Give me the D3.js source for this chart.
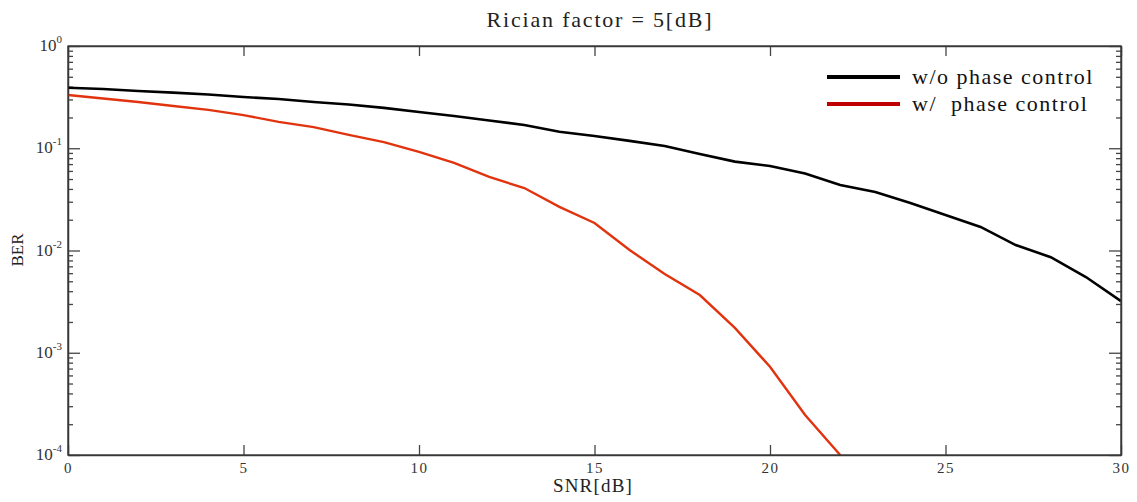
<!DOCTYPE html>
<html lang="en">
<head>
    <meta charset="UTF-8">
    <title>Rician factor = 5[dB]</title>
    <script src="https://d3js.org/d3.v7.min.js"></script>
    <style>
        body { margin: 0; background: #fff; }
        text { font-family: "Liberation Serif", "Times New Roman", serif; fill: #222; }
        .axis path, .axis line { stroke: #444; stroke-width: 1.3; }
        .axis text { font-family: "Liberation Serif", serif; font-size: 15px; fill: #333; }
    </style>
</head>
<body>
<script>
    const width = 1137, height = 502;
    const plotL = 68, plotR = 1121, plotT = 46, plotB = 455;

    // SNR [dB]
    const snr = d3.range(0, 31);
    // BER without phase control
    const berNoCtrl = [0.39, 0.38, 0.363, 0.35, 0.336, 0.317, 0.303, 0.283, 0.268, 0.248,
                       0.226, 0.207, 0.187, 0.169, 0.145, 0.132, 0.118, 0.105, 0.088, 0.074,
                       0.067, 0.0566, 0.0437, 0.0374, 0.0292, 0.0222, 0.017, 0.0113, 0.0086, 0.0055, 0.0032];
    // BER with phase control (ends at 22 dB)
    const berCtrl = [0.332, 0.307, 0.283, 0.259, 0.237, 0.211, 0.181, 0.161, 0.135, 0.115,
                     0.092, 0.0718, 0.0524, 0.0408, 0.0267, 0.0186, 0.0101, 0.0059, 0.00367, 0.00175,
                     0.00073, 0.000246, 0.0001];
    const xTicks = [0, 5, 10, 15, 20, 25, 30];
    const decades = [0, -1, -2, -3, -4];

    const x = d3.scaleLinear().domain([0, 30]).range([plotL, plotR]);
    const y = d3.scaleLog().domain([1e-4, 1]).range([plotB, plotT]);

    const svg = d3.select("body").append("svg")
        .attr("width", width).attr("height", height);

    const majorY = decades.map(e => Math.pow(10, e));
    const minorY = y.ticks().filter(v => !majorY.some(m => Math.abs(m - v) / v < 1e-6));

    // left axis: minor + major ticks pointing inward
    svg.append("g").attr("class", "axis")
        .attr("transform", `translate(${plotL},0)`)
        .call(d3.axisRight(y).tickValues(minorY).tickSize(5).tickSizeOuter(0).tickFormat(""));
    svg.append("g").attr("class", "axis")
        .attr("transform", `translate(${plotL},0)`)
        .call(d3.axisRight(y).tickValues(majorY).tickSize(12).tickSizeOuter(0).tickFormat(""));

    // right axis
    svg.append("g").attr("class", "axis")
        .attr("transform", `translate(${plotR},0)`)
        .call(d3.axisLeft(y).tickValues(minorY).tickSize(5).tickSizeOuter(0).tickFormat(""));
    svg.append("g").attr("class", "axis")
        .attr("transform", `translate(${plotR},0)`)
        .call(d3.axisLeft(y).tickValues(majorY).tickSize(12).tickSizeOuter(0).tickFormat(""));

    // bottom axis with labels, ticks upward
    const gx = svg.append("g").attr("class", "axis")
        .attr("transform", `translate(0,${plotB})`)
        .call(d3.axisBottom(x).tickValues(xTicks).tickSize(-10).tickSizeOuter(0).tickPadding(6));
    gx.selectAll(".tick text").attr("dy", "0.8em").style("letter-spacing", "1.5px");

    // top axis, ticks downward
    svg.append("g").attr("class", "axis")
        .attr("transform", `translate(0,${plotT})`)
        .call(d3.axisTop(x).tickValues(xTicks).tickSize(-10).tickSizeOuter(0).tickFormat(""));

    // y labels 10^n
    const yl = svg.append("g").selectAll("text").data(decades).join("text")
        .attr("x", plotL - 6)
        .attr("y", d => y(Math.pow(10, d)) + 5)
        .attr("text-anchor", "end")
        .style("font-size", "17px").style("fill", "#333");
    yl.append("tspan").text("10");
    yl.append("tspan").attr("dy", -8).style("font-size", "11px").text(d => d);

    // lines
    svg.append("clipPath").attr("id", "clip").append("rect")
        .attr("x", plotL).attr("y", plotT).attr("width", plotR - plotL).attr("height", plotB - plotT);

    const line = d3.line().x(d => x(d[0])).y(d => y(d[1]));
    svg.append("path")
        .datum(snr.slice(0, berNoCtrl.length).map((s, i) => [s, berNoCtrl[i]]))
        .attr("clip-path", "url(#clip)")
        .attr("fill", "none").attr("stroke", "#000").attr("stroke-width", 2.6)
        .attr("d", line);
    svg.append("path")
        .datum(snr.slice(0, berCtrl.length).map((s, i) => [s, berCtrl[i]]))
        .attr("clip-path", "url(#clip)")
        .attr("fill", "none").attr("stroke", "#e2330f").attr("stroke-width", 2.4)
        .attr("d", line);

    // frame
    svg.append("rect")
        .attr("x", plotL).attr("y", plotT).attr("width", plotR - plotL).attr("height", plotB - plotT)
        .attr("fill", "none").attr("stroke", "#333").attr("stroke-width", 1.3);

    // legend
    const legend = [
        {label: "w/o phase control", color: "#000", ly: 77, ty: 84},
        {label: "w/\u00a0 phase control", color: "#c00000", ly: 104, ty: 111}
    ];
    const lg = svg.append("g");
    lg.selectAll("line").data(legend).join("line")
        .attr("x1", 827).attr("x2", 900)
        .attr("y1", d => d.ly).attr("y2", d => d.ly)
        .attr("stroke", d => d.color).attr("stroke-width", 4);
    lg.selectAll("text").data(legend).join("text")
        .attr("x", 912).attr("y", d => d.ty)
        .style("font-size", "22px").style("letter-spacing", "1.5px").style("fill", "#111")
        .text(d => d.label);

    // titles
    svg.append("text").attr("x", 600).attr("y", 27)
        .attr("text-anchor", "middle").style("font-size", "22px").style("letter-spacing", "1.8px")
        .text("Rician factor = 5[dB]");
    svg.append("text").attr("x", 593).attr("y", 492)
        .attr("text-anchor", "middle").style("font-size", "19px").style("letter-spacing", "1.2px")
        .text("SNR[dB]");
    svg.append("text")
        .attr("transform", `translate(23,250) rotate(-90)`)
        .attr("text-anchor", "middle").style("font-size", "17px")
        .text("BER");
</script>
</body>
</html>
